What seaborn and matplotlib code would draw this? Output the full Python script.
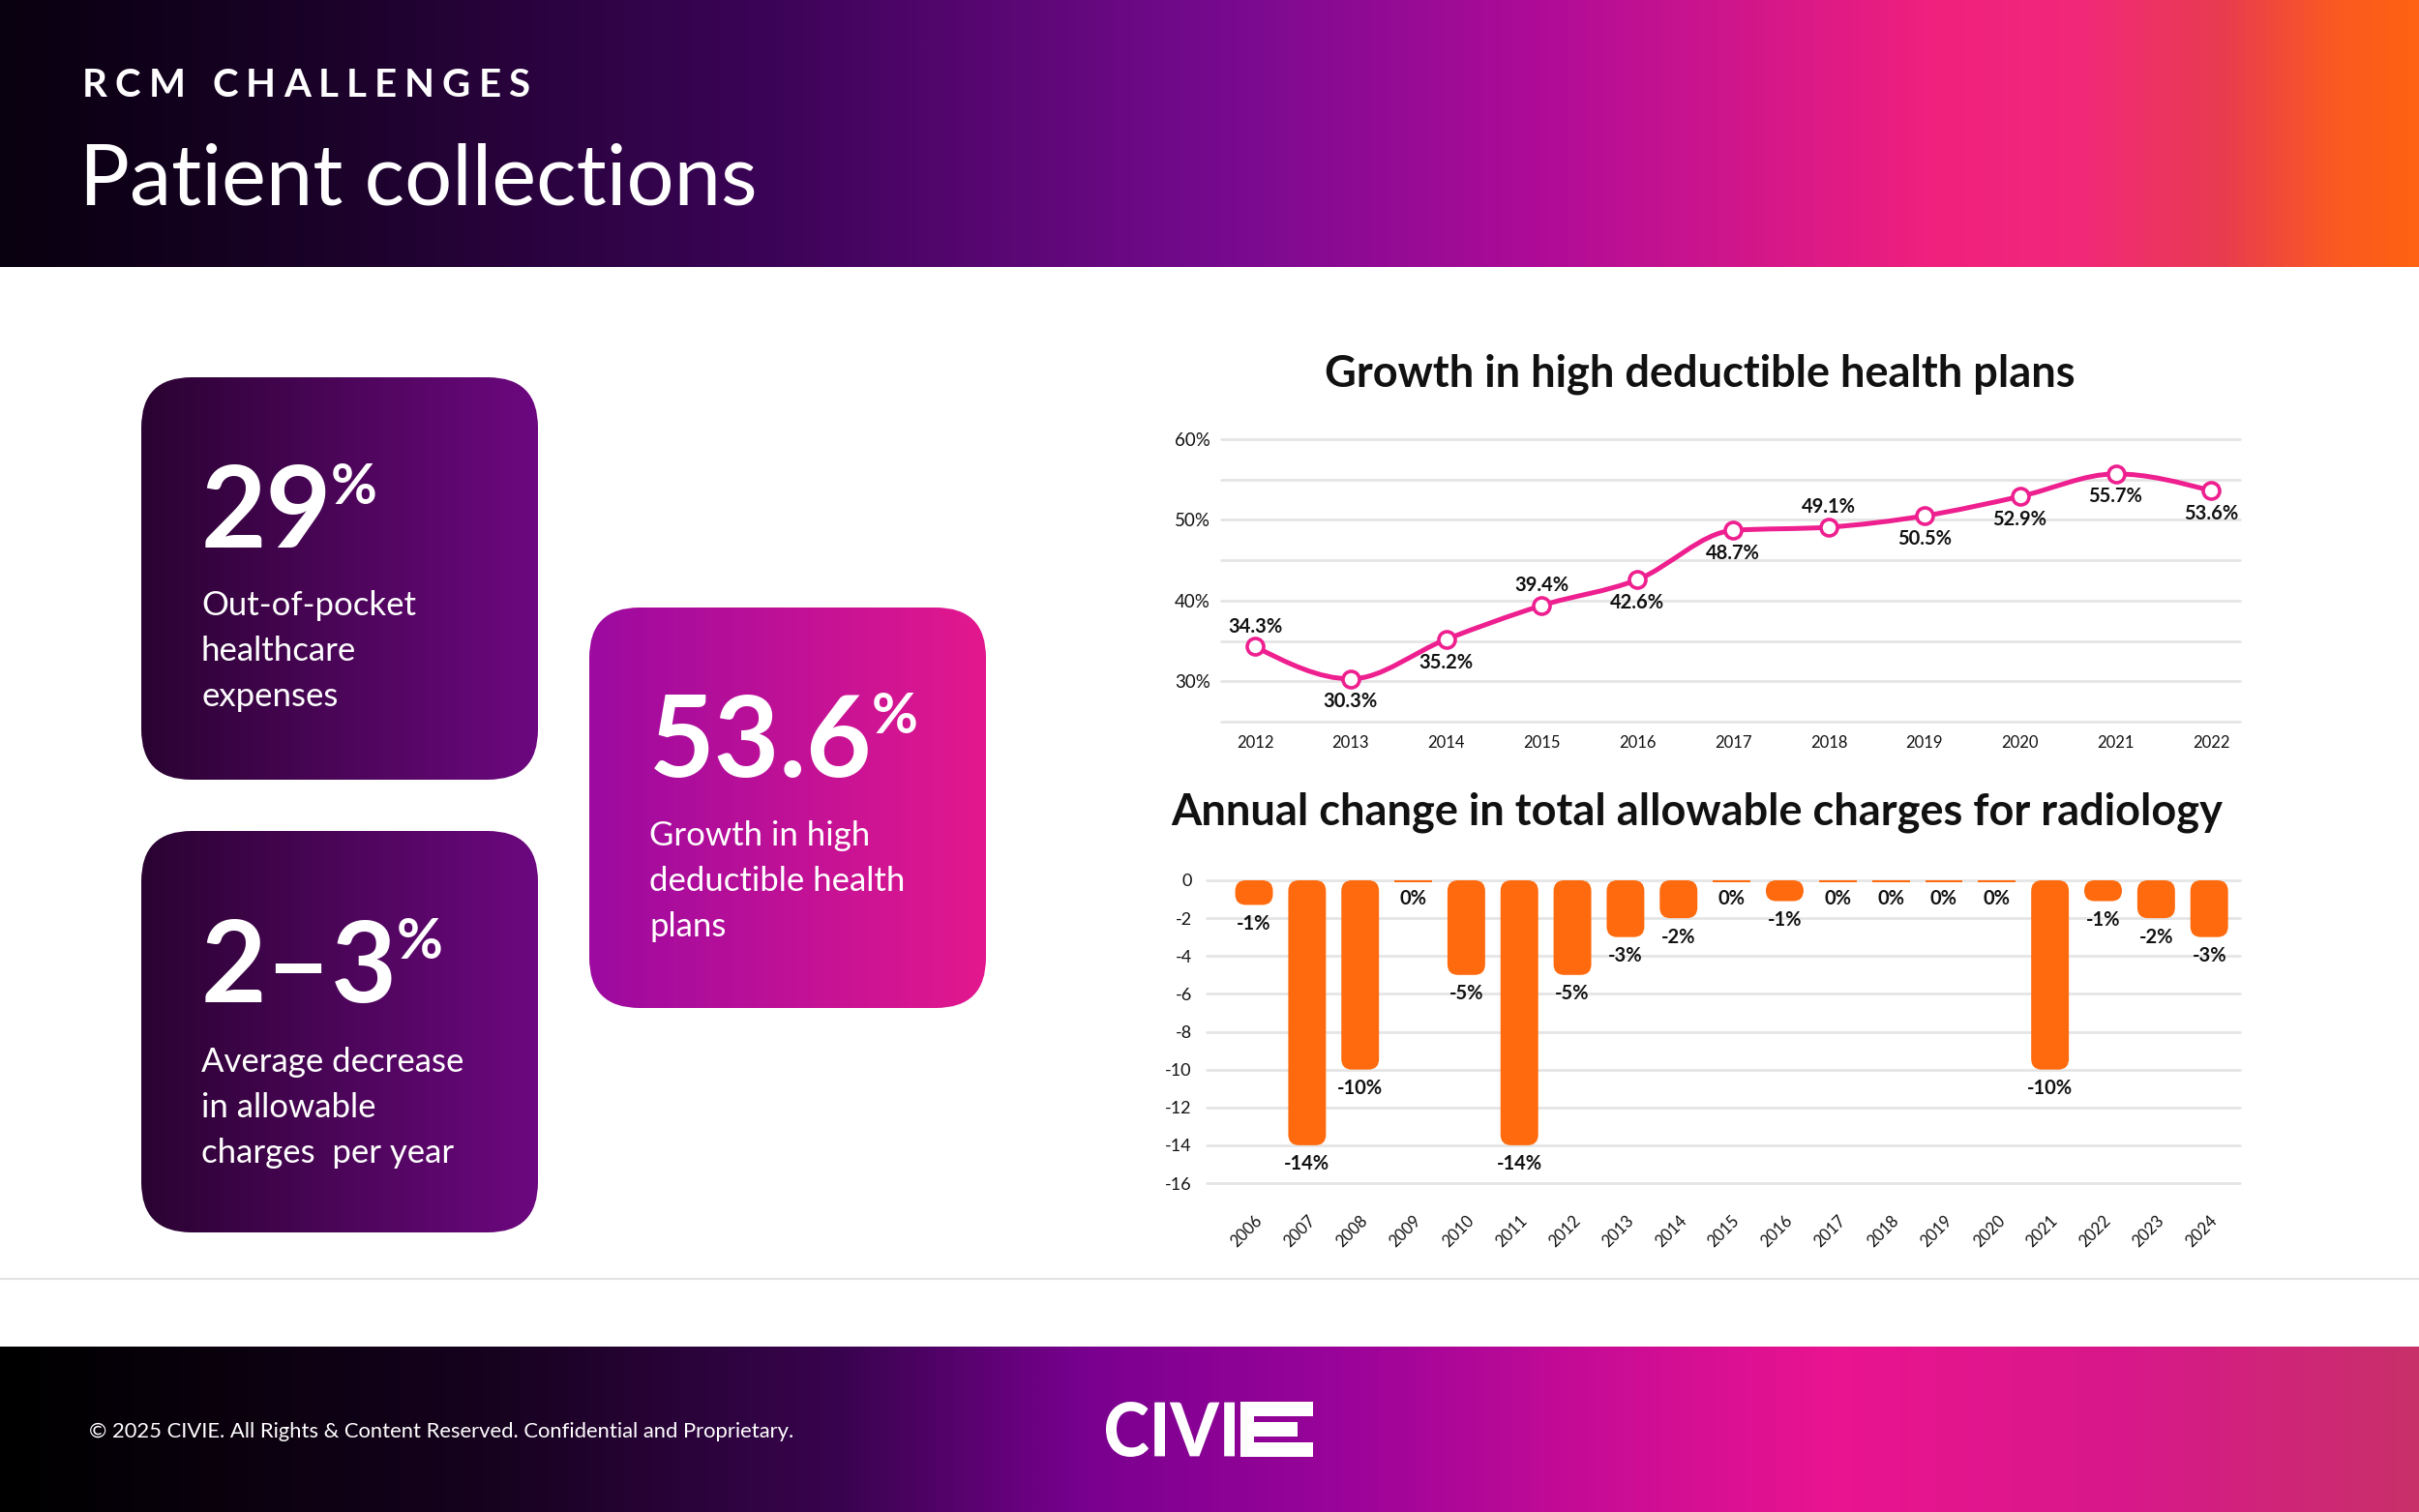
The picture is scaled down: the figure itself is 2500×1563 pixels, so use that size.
import numpy as np
import matplotlib
matplotlib.use("Agg")
import matplotlib.pyplot as plt
import seaborn as sns
from matplotlib.colors import LinearSegmentedColormap
from matplotlib.patches import FancyBboxPatch, Rectangle, PathPatch
from matplotlib.path import Path
from matplotlib.textpath import TextPath
from matplotlib.font_manager import FontProperties
from matplotlib.transforms import Affine2D

# ---- Data ----
HDHP_YEARS = [2012, 2013, 2014, 2015, 2016, 2017, 2018, 2019, 2020, 2021, 2022]
HDHP_SHARE = [34.3, 30.3, 35.2, 39.4, 42.6, 48.7, 49.1, 50.5, 52.9, 55.7, 53.6]
HDHP_LABEL_ABOVE = [True, False, False, True, False, False, True, False, False, False, False]
HDHP_YTICKS = [25, 30, 35, 40, 45, 50, 55, 60]

CHARGE_YEARS = ["2006", "2007", "2008", "2009", "2010", "2011", "2012", "2013", "2014", "2015",
                "2016", "2017", "2018", "2019", "2020", "2021", "2022", "2023", "2024"]
CHARGE_CHANGE = [-1.3, -14, -10, 0, -5, -14, -5, -3, -2, 0, -1.1, 0, 0, 0, 0, -10, -1.1, -2, -3]
CHARGE_LABELS = ["-1%", "-14%", "-10%", "0%", "-5%", "-14%", "-5%", "-3%", "-2%", "0%",
                 "-1%", "0%", "0%", "0%", "0%", "-10%", "-1%", "-2%", "-3%"]
CHARGE_YTICKS = [0, -2, -4, -6, -8, -10, -12, -14, -16]

CARD_VALUES = ["29", "2\u20133", "53.6"]
CARD_TEXT = [["Out-of-pocket", "healthcare", "expenses"],
             ["Average decrease", "in allowable", "charges  per year"],
             ["Growth in high", "deductible health", "plans"]]

# ---- Style ----
W, H = 2500, 1563
FONT = ["Lato", "DejaVu Sans"]
PINK = "#ee1f8f"
ORANGE = "#fe6a0d"
GRID = "#e5e5e5"
INK = "#111111"

HEADER_STOPS = [(0.0, "#090010"), (0.13, "#1a0228"), (0.32, "#3c0458"), (0.51, "#780a90"),
                (0.64, "#b00c98"), (0.8, "#f0207e"), (0.86, "#f2287a"), (0.92, "#e83c50"),
                (0.97, "#fb5a20"), (1.0, "#ff6212")]
FOOTER_STOPS = [(0.0, "#000000"), (0.2, "#16021e"), (0.35, "#3a0450"), (0.45, "#7a0090"),
                (0.56, "#9c049a"), (0.66, "#c80c96"), (0.76, "#ea1490"), (0.88, "#d8188a"),
                (1.0, "#c8306a")]
CARD_DARK = [(0.0, "#2a0332"), (1.0, "#6d0880")]
CARD_PINK = [(0.0, "#9c0aa0"), (1.0, "#e3188e")]

# card boxes in pixel coords: x0, y0, x1, y1
CARD_BOXES = [(146, 390, 556, 806), (146, 859, 556, 1274), (609, 628, 1019, 1042)]
CARD_GRADS = [CARD_DARK, CARD_DARK, CARD_PINK]
CARD_NUM_BASE = [566, 1036, 803]
CARD_TEXT_BASE = [636, 1108, 874]

sns.set_theme(style="white")
plt.rcParams["font.family"] = FONT

fig = plt.figure(figsize=(W / 100, H / 100), dpi=100)
fig.patch.set_facecolor("white")

bg = fig.add_axes([0, 0, 1, 1], zorder=0)
bg.set_xlim(0, W)
bg.set_ylim(H, 0)
bg.axis("off")


def gradient(ax, box, stops, clip=None):
    x0, y0, x1, y1 = box
    cmap = LinearSegmentedColormap.from_list("g", stops)
    im = ax.imshow(np.linspace(0, 1, 600)[None, :], cmap=cmap, aspect="auto",
                   extent=(x0, x1, y1, y0), interpolation="bicubic", zorder=1)
    if clip is not None:
        im.set_clip_path(clip)
    return im


gradient(bg, (0, 0, W, 276), HEADER_STOPS)
gradient(bg, (0, 1392, W, H), FOOTER_STOPS)
bg.plot([0, W], [1322, 1322], color="#e2e2e2", lw=1.5, zorder=1)

renderer = fig.canvas.get_renderer()

# ---- Header text ----
label = "RCM CHALLENGES"
x = 85
track = 8
for ch in label:
    if ch == " ":
        x += 12 + track
        continue
    t = bg.text(x, 89, ch, color="white", fontsize=29, fontweight="bold", va="center", ha="left", zorder=3)
    x += t.get_window_extent(renderer).width + track
bg.text(82, 212, "Patient collections", color="white", fontsize=62.5, fontweight="normal",
        va="baseline", ha="left", zorder=3)

# ---- Cards ----
for box, grad, val, lines, nb, tb in zip(CARD_BOXES, CARD_GRADS, CARD_VALUES, CARD_TEXT,
                                         CARD_NUM_BASE, CARD_TEXT_BASE):
    x0, y0, x1, y1 = box
    patch = FancyBboxPatch((x0, y0), x1 - x0, y1 - y0, boxstyle="round,pad=0,rounding_size=52",
                           facecolor="none", edgecolor="none", zorder=1)
    bg.add_patch(patch)
    gradient(bg, box, grad, clip=patch)
    tx = x0 + 62
    num = bg.text(tx, nb, val, color="white", fontsize=84, fontweight="bold",
                  va="baseline", ha="left", zorder=3)
    ext = num.get_window_extent(renderer)
    bg.text(ext.x1 - 1, nb - 88, "%", color="white", fontsize=42, fontweight="bold",
            va="top", ha="left", zorder=3)
    for i, line in enumerate(lines):
        bg.text(tx, tb + i * 47, line, color="white", fontsize=25, va="baseline",
                ha="left", zorder=3)

# ---- Chart titles ----
bg.text(1757, 387, "Growth in high deductible health plans", color=INK, fontsize=32.5,
        fontweight="bold", ha="center", va="center", zorder=3)
bg.text(1754, 840, "Annual change in total allowable charges for radiology", color=INK,
        fontsize=32.5, fontweight="bold", ha="center", va="center", zorder=3)

# ---- Footer ----
bg.text(92, 1480, "\u00a9 2025 CIVIE. All Rights & Content Reserved. Confidential and Proprietary.",
        color="white", fontsize=15.8, va="center", ha="left", zorder=3)
logo_prop = FontProperties(family=FONT, weight="black")
tp = TextPath((0, 0), "CIVI", size=1, prop=logo_prop)
bb = tp.get_extents()
sx = (1276 - 1143) / bb.width
sy = (1506 - 1449) / bb.height
tr = Affine2D().translate(-bb.x0, -bb.y0).scale(sx, -sy).translate(1143, 1506) + bg.transData
bg.add_patch(PathPatch(tp, facecolor="white", edgecolor="none", transform=tr, zorder=3))
for (ex0, ey0, ex1, ey1) in [(1282, 1449, 1357, 1464), (1282, 1470, 1341, 1485), (1282, 1491, 1357, 1506)]:
    bg.add_patch(Rectangle((ex0, ey0), ex1 - ex0, ey1 - ey0, facecolor="white", edgecolor="none", zorder=3))
bg.add_patch(Rectangle((1282, 1449), 14, 57, facecolor="white", edgecolor="none", zorder=3))


# ---- Line chart ----
def monotone_path(xs, ys):
    xs = np.asarray(xs, float)
    ys = np.asarray(ys, float)
    h = np.diff(xs)
    s = np.diff(ys) / h
    n = len(xs)
    t = np.zeros(n)
    for i in range(1, n - 1):
        p = (s[i - 1] * h[i] + s[i] * h[i - 1]) / (h[i - 1] + h[i])
        t[i] = (np.sign(s[i - 1]) + np.sign(s[i])) * min(abs(s[i - 1]), abs(s[i]), 0.5 * abs(p))
    t[0] = (3 * s[0] - t[1]) / 2
    t[-1] = (3 * s[-1] - t[-2]) / 2
    verts = [(xs[0], ys[0])]
    codes = [Path.MOVETO]
    for i in range(n - 1):
        d = h[i] / 3
        verts += [(xs[i] + d, ys[i] + d * t[i]), (xs[i + 1] - d, ys[i + 1] - d * t[i + 1]),
                  (xs[i + 1], ys[i + 1])]
        codes += [Path.CURVE4] * 3
    return Path(verts, codes)


ax1 = fig.add_axes([1262 / W, 1 - 746 / H, (2315 - 1262) / W, (746 - 454) / H], zorder=2)
ax1.patch.set_alpha(0)
ax1.add_patch(PathPatch(monotone_path(HDHP_YEARS, HDHP_SHARE), facecolor="none", edgecolor=PINK,
                        lw=3.6, zorder=3, capstyle="round"))
sns.scatterplot(x=HDHP_YEARS, y=HDHP_SHARE, ax=ax1, s=150, color="white", edgecolor=PINK,
                linewidth=2.6, zorder=4, clip_on=False)
for yr, v, above in zip(HDHP_YEARS, HDHP_SHARE, HDHP_LABEL_ABOVE):
    ax1.annotate(f"{v}%", (yr, v), xytext=(0, 15 if above else -17), textcoords="offset points",
                 ha="center", va="center", fontsize=14.5, fontweight="bold", color=INK)
ax1.set_xlim(2011.646, 2022.30)
ax1.set_ylim(25, 60)
ax1.set_yticks(HDHP_YTICKS)
ax1.set_yticklabels([f"{v}%" if v % 10 == 0 else "" for v in HDHP_YTICKS])
ax1.set_xticks(HDHP_YEARS)
ax1.set_xticklabels([str(y) for y in HDHP_YEARS])
ax1.grid(axis="y", color=GRID, lw=2, clip_on=False)
ax1.grid(axis="x", visible=False)
ax1.tick_params(length=0, labelsize=12, colors=INK)
ax1.tick_params(axis="y", pad=8, labelsize=13.5)
ax1.tick_params(axis="x", pad=10)
for sp in ax1.spines.values():
    sp.set_visible(False)
ax1.set_xlabel("")
ax1.set_ylabel("")

# ---- Bar chart ----
ax2 = fig.add_axes([1247 / W, 1 - 1223 / H, (2315 - 1247) / W, (1223 - 910) / H], zorder=2)
ax2.patch.set_alpha(0)
sns.barplot(x=CHARGE_YEARS, y=CHARGE_CHANGE, color=ORANGE, saturation=1, width=0.71, ax=ax2, zorder=3)
ax2.set_xlim(-0.894, 18.58)
ax2.set_ylim(-16, 0)

# swap the flat bars for rounded ones of the same geometry
fig.canvas.draw()
xpp = (18.58 + 0.894) / ax2.get_window_extent().width
ypp = 16 / ax2.get_window_extent().height
for p in list(ax2.patches):
    bx, by, bw, bh = p.get_x(), p.get_y(), p.get_width(), p.get_height()
    lo = min(by, by + bh)
    hh = abs(bh)
    p.remove()
    if hh < 0.2:
        ax2.add_patch(Rectangle((bx, -0.1), bw, 0.1, facecolor=ORANGE, edgecolor="none", zorder=3))
    else:
        r = min(11 * xpp, hh / 2 / (ypp / xpp))
        ax2.add_patch(FancyBboxPatch((bx, lo), bw, hh, boxstyle=f"round,pad=0,rounding_size={r}",
                                     mutation_aspect=ypp / xpp, facecolor=ORANGE,
                                     edgecolor="none", zorder=3))

for i, (v, lab) in enumerate(zip(CHARGE_CHANGE, CHARGE_LABELS)):
    ax2.annotate(lab, (i, v), xytext=(0, -14), textcoords="offset points", ha="center",
                 va="center", fontsize=14.5, fontweight="bold", color=INK)

ax2.set_yticks(CHARGE_YTICKS)
ax2.set_yticklabels([str(v) for v in CHARGE_YTICKS])
ax2.grid(axis="y", color=GRID, lw=2, clip_on=False)
ax2.grid(axis="x", visible=False)
ax2.tick_params(length=0, labelsize=13, colors=INK)
ax2.tick_params(axis="y", pad=11)
ax2.tick_params(axis="x", pad=22, labelsize=12)
for lab in ax2.get_xticklabels():
    lab.set_rotation(45)
    lab.set_ha("right")
    lab.set_rotation_mode("anchor")
for sp in ax2.spines.values():
    sp.set_visible(False)
ax2.set_xlabel("")
ax2.set_ylabel("")

fig.savefig("out.png", dpi=100)
